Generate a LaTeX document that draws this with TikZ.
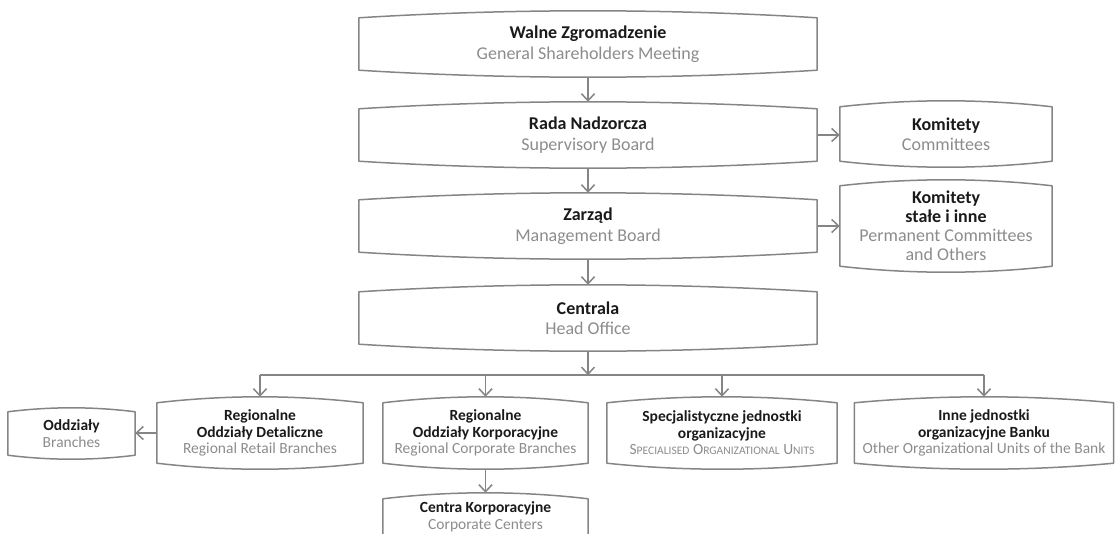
\documentclass[tikz,border=0pt]{standalone}
\usepackage{fontspec}
\setmainfont{Carlito}
\usepackage{xcolor}
\usepackage{tikz}
\usetikzlibrary{arrows.meta,positioning,calc}
\definecolor{inkname}{HTML}{1A1A1A}
\definecolor{inksub}{HTML}{8C8C8C}
\definecolor{edge}{HTML}{858585}
\tikzstyle{board} = [align=center, inner sep=0pt, minimum width=458pt,
    minimum height=52pt, font=\fontsize{18}{20.5}\selectfont]
\tikzstyle{committee} = [board, minimum width=212pt, minimum height=54pt]
\tikzstyle{unit} = [align=center, inner sep=0pt, minimum width=206pt,
    minimum height=60pt, font=\fontsize{15.5}{16.5}\selectfont]
\tikzstyle{frame} = [draw=edge, line width=1.5pt, line join=round]
\tikzstyle{connector} = [-{Straight Barb[length=7pt,width=13pt]}, draw=edge, line width=1.5pt]
\newcommand{\pl}[1]{{\bfseries\color{inkname}#1}}
\newcommand{\en}[1]{{\color{inksub}#1}}
\newcommand{\smc}[1]{{\fontsize{11.5}{16.5}\selectfont #1}}

\begin{document}
\begin{tikzpicture}[x=1pt, y=1pt]
    \path [use as bounding box, clip] (0,0) rectangle (1119,-533);
    \node (gsm) [board] at (588,-44) {\pl{Walne Zgromadzenie}\\\en{General Shareholders Meeting}};
    \node (sb) [board, below of=gsm, node distance=91pt] {\pl{Rada Nadzorcza}\\\en{Supervisory Board}};
    \node (mb) [board, below of=sb, node distance=91pt] {\pl{Zarząd}\\\en{Management Board}};
    \node (ho) [board, below of=mb, node distance=92pt] {\pl{Centrala}\\\en{Head Office}};
    \node (kom) [committee, right of=sb, node distance=358pt, yshift=1pt] {\pl{Komitety}\\\en{Committees}};
    \node (kst) [committee, right of=mb, node distance=358pt, minimum height=80pt, font=\fontsize{18}{19}\selectfont]
        {\pl{Komitety}\\\pl{stałe i inne}\\\en{Permanent Committees}\\\en{and Others}};

    \node (corp) [unit, below of=ho, node distance=115pt, xshift=-102.5pt, minimum width=205pt] {\pl{Regionalne}\\\pl{Oddziały Korporacyjne}\\\en{Regional Corporate Branches}};
    \node (retail) [unit, left of=corp, node distance=225.5pt] {\pl{Regionalne}\\\pl{Oddziały Detaliczne}\\\en{Regional Retail Branches}};
    \node (spec) [unit, right of=corp, node distance=236.5pt, minimum width=230pt] {\pl{Specjalistyczne jednostki}\\\pl{organizacyjne}\\\en{S\smc{PECIALISED} O\smc{RGANIZATIONAL} U\smc{NITS}}};
    \node (other) [unit, right of=spec, node distance=262pt, minimum width=259pt] {\pl{Inne jednostki}\\\pl{organizacyjne Banku}\\\en{Other Organizational Units of the Bank}};
    \node (branches) [unit, left of=retail, node distance=188.5pt, yshift=-0.5pt, minimum width=127pt, minimum height=43pt] {\pl{Oddziały}\\\en{Branches}};
    \node (cc) [unit, below of=corp, node distance=84pt, minimum width=205pt, minimum height=36pt] {\pl{Centra Korporacyjne}\\\en{Corporate Centers}};

    % bowed outlines
    \foreach \n/\b in {gsm/7,sb/7,mb/7,ho/7,kom/6,kst/6,retail/6,corp/6,spec/6,other/6,branches/4,cc/6}
        \draw [frame] (\n.north west) parabola bend ($(\n.north)+(0,\b)$) (\n.north east) -- (\n.south east)
            parabola bend ($(\n.south)+(0,-\b)$) (\n.south west) -- cycle;

    \coordinate (bus) at ($(ho.south)+(0,-31)$);
    \draw [connector] ($(gsm.south)+(0,-7)$) -- ($(sb.north)+(0,7)$);
    \draw [connector] ($(sb.south)+(0,-7)$) -- ($(mb.north)+(0,7)$);
    \draw [connector] ($(mb.south)+(0,-7)$) -- ($(ho.north)+(0,7)$);
    \draw [connector] ($(ho.south)+(0,-7)$) -- (bus);
    \draw [connector] (sb.east) -- (sb.east -| kom.west);
    \draw [connector] (mb.east) -- (mb.east -| kst.west);
    \draw [frame] (retail |- bus) -- (other |- bus);
    \foreach \n in {retail,corp,spec,other}
        \draw [connector] (\n |- bus) -- ($(\n.north)+(0,6)$);
    \draw [connector] (retail.west) -- (retail.west -| branches.east);
    \draw [connector] ($(corp.south)+(0,-6)$) -- ($(cc.north)+(0,6)$);
\end{tikzpicture}
\end{document}
